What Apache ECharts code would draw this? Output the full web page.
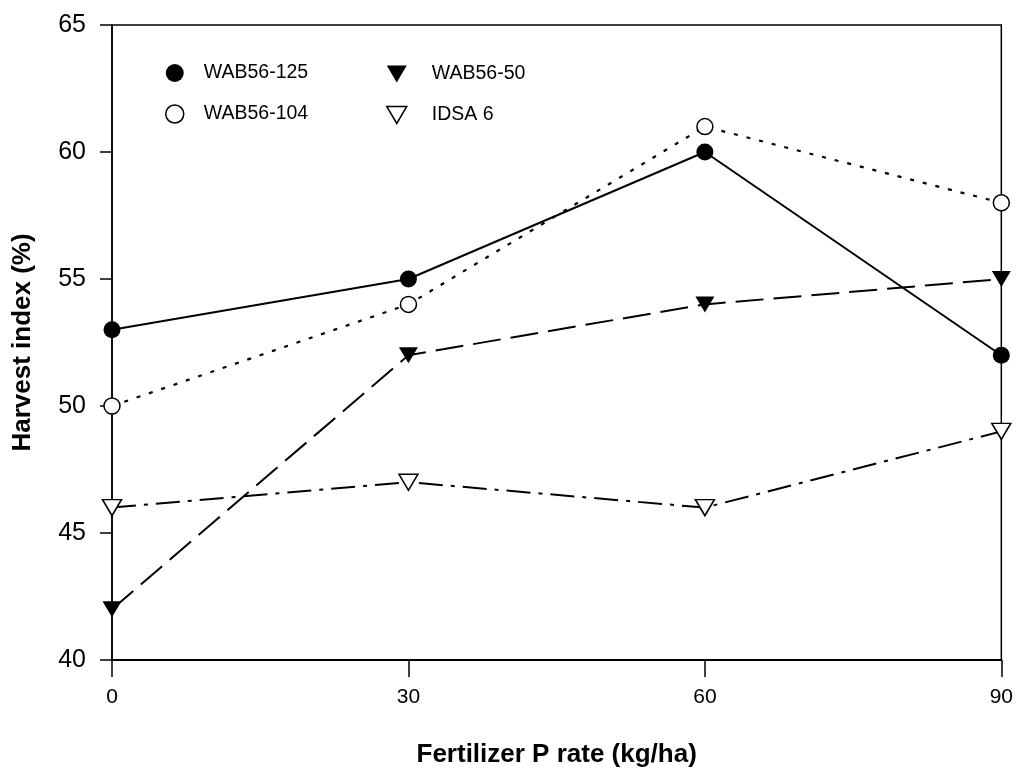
<!DOCTYPE html>
<html>
<head>
<meta charset="utf-8">
<script src="https://cdn.jsdelivr.net/npm/echarts@6/dist/echarts.min.js"></script>
<style>
  html, body { margin: 0; padding: 0; background: #fff; }
  #chart { width: 1016px; height: 773px; }
</style>
</head>
<body>
<div id="chart"></div>
<script>
// P rates (kg/ha)
var pRates = [0, 30, 60, 90];
// harvest index (%) per cultivar
var wab125 = [53, 55, 60, 52];
var wab104 = [50, 54, 61, 58];
var wab50 = [42, 52, 54, 55];
var idsa6 = [46, 47, 46, 49];
var yTicks = [40, 45, 50, 55, 60, 65];

var FONT = '"Liberation Sans", Arial, sans-serif';
var DOWN_TRI = 'path://M0,0L20,0L10,17Z';

function pairs(vals) {
    return pRates.map(function (x, i) { return [x, vals[i]]; });
}

function chart() {
    var myChart = echarts.init(document.getElementById('chart'));

    var option = {
        backgroundColor: '#fff',
        animation: false,
        textStyle: { fontFamily: FONT, color: '#000' },
        grid: {
            left: 112, right: 13, top: 25, bottom: 111,
            show: true, borderColor: '#000', borderWidth: 1.5
        },
        legend: [{
            left: 160, top: 58, orient: 'vertical', itemGap: 21,
            itemWidth: 18, itemHeight: 18, selectedMode: false,
            textStyle: { fontSize: 19.5, color: '#000', fontFamily: FONT, padding: [0, 0, 0, 15] },
            data: [
                { name: 'WAB56-125', icon: 'circle', itemStyle: { color: '#000', borderWidth: 0 } },
                { name: 'WAB56-104', icon: 'circle', itemStyle: { color: '#fff', borderColor: '#000', borderWidth: 1.5 } }
            ]
        }, {
            left: 381, top: 59, orient: 'vertical', itemGap: 21,
            itemWidth: 20, itemHeight: 17, selectedMode: false,
            textStyle: { fontSize: 19.5, color: '#000', fontFamily: FONT, padding: [0, 0, 0, 20] },
            data: [
                { name: 'WAB56-50', icon: DOWN_TRI, itemStyle: { color: '#000', borderWidth: 0 } },
                { name: 'IDSA 6', icon: DOWN_TRI, itemStyle: { color: '#fff', borderColor: '#000', borderWidth: 1.5 } }
            ]
        }],
        xAxis: {
            type: 'value', min: 0, max: 90, interval: 30,
            name: 'Fertilizer P rate (kg/ha)', nameLocation: 'middle', nameGap: 82,
            nameTextStyle: { fontSize: 26, fontWeight: 'bold', color: '#000', fontFamily: FONT },
            axisLine: { lineStyle: { color: '#000', width: 2 } },
            axisTick: { length: 17, lineStyle: { color: '#000', width: 1.5 } },
            axisLabel: { fontSize: 21, color: '#000', margin: 27, fontFamily: FONT },
            splitLine: { show: false }
        },
        yAxis: {
            type: 'value', min: yTicks[0], max: yTicks[yTicks.length - 1], interval: 5,
            name: 'Harvest index (%)', nameLocation: 'middle', nameGap: 76,
            nameTextStyle: { fontSize: 26, fontWeight: 'bold', color: '#000', fontFamily: FONT },
            axisLine: { lineStyle: { color: '#000', width: 1.5 } },
            axisTick: { length: 12, lineStyle: { color: '#000', width: 1.5 } },
            axisLabel: { fontSize: 25, color: '#000', margin: 26, fontFamily: FONT },
            splitLine: { show: false }
        },
        series: [{
            name: 'WAB56-125', type: 'line', data: pairs(wab125),
            symbol: 'circle', symbolSize: 17,
            itemStyle: { color: '#000' },
            lineStyle: { color: '#000', width: 2, type: 'solid' }
        }, {
            name: 'WAB56-104', type: 'line', data: pairs(wab104),
            symbol: 'circle', symbolSize: 16,
            itemStyle: { color: '#fff', borderColor: '#000', borderWidth: 1.5 },
            lineStyle: { color: '#000', width: 2.2, type: [4, 9] }
        }, {
            name: 'WAB56-50', type: 'line', data: pairs(wab50),
            symbol: DOWN_TRI, symbolSize: [19, 16],
            itemStyle: { color: '#000' },
            lineStyle: { color: '#000', width: 2, type: [28, 10] }
        }, {
            name: 'IDSA 6', type: 'line', data: pairs(idsa6),
            symbol: DOWN_TRI, symbolSize: [19, 16],
            itemStyle: { color: '#fff', borderColor: '#000', borderWidth: 1.5 },
            lineStyle: { color: '#000', width: 2, type: [24, 8, 4, 8] }
        }]
    };

    myChart.setOption(option);
}

chart();
</script>
</body>
</html>
